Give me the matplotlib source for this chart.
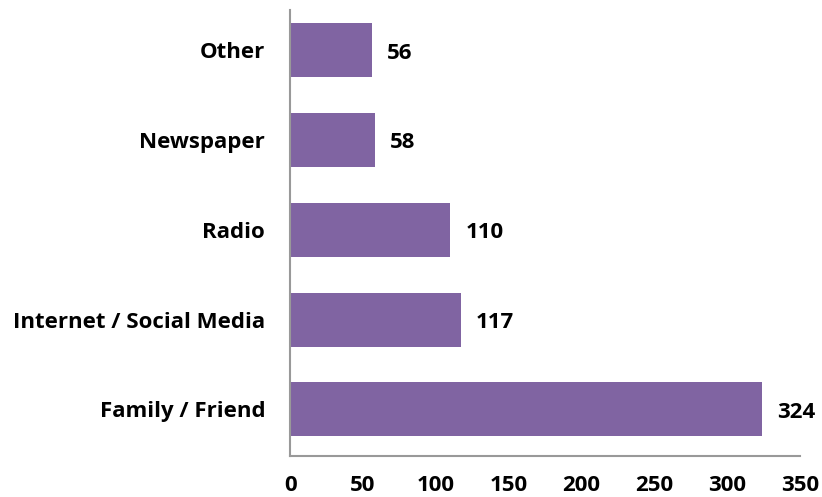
import matplotlib.pyplot as plt

categories = ['Family / Friend', 'Internet / Social Media', 'Radio', 'Newspaper', 'Other']
values = [324, 117, 110, 58, 56]
xticks = [0, 50, 100, 150, 200, 250, 300, 350]

plt.rcParams['font.family'] = ['Open Sans', 'DejaVu Sans']

fig = plt.figure(figsize=(8.22, 4.97), dpi=100)
ax = fig.add_axes([0.353, 0.0825, 0.62, 0.8975])

y = range(len(categories))
ax.barh(y, values, height=0.6, color='#8064A2')

for i, v in enumerate(values):
    ax.annotate(str(v), (v, i), xytext=(11, -2), textcoords='offset points',
                ha='left', va='center', fontsize=16, fontweight='bold')

ax.set_xlim(0, 350)
ax.set_ylim(-0.52, 4.45)
ax.set_xticks(xticks)
ax.set_xticklabels([str(t) for t in xticks], fontsize=16, fontweight='bold')
ax.set_yticks(list(y))
ax.set_yticklabels(categories, fontsize=16, fontweight='bold')
ax.tick_params(length=0)
ax.tick_params(axis='x', pad=14)
ax.tick_params(axis='y', pad=18)

for s in ['top', 'right']:
    ax.spines[s].set_visible(False)
for s in ['left', 'bottom']:
    ax.spines[s].set_color('#999999')
    ax.spines[s].set_linewidth(1.5)

fig.savefig('out.png', dpi=100)
